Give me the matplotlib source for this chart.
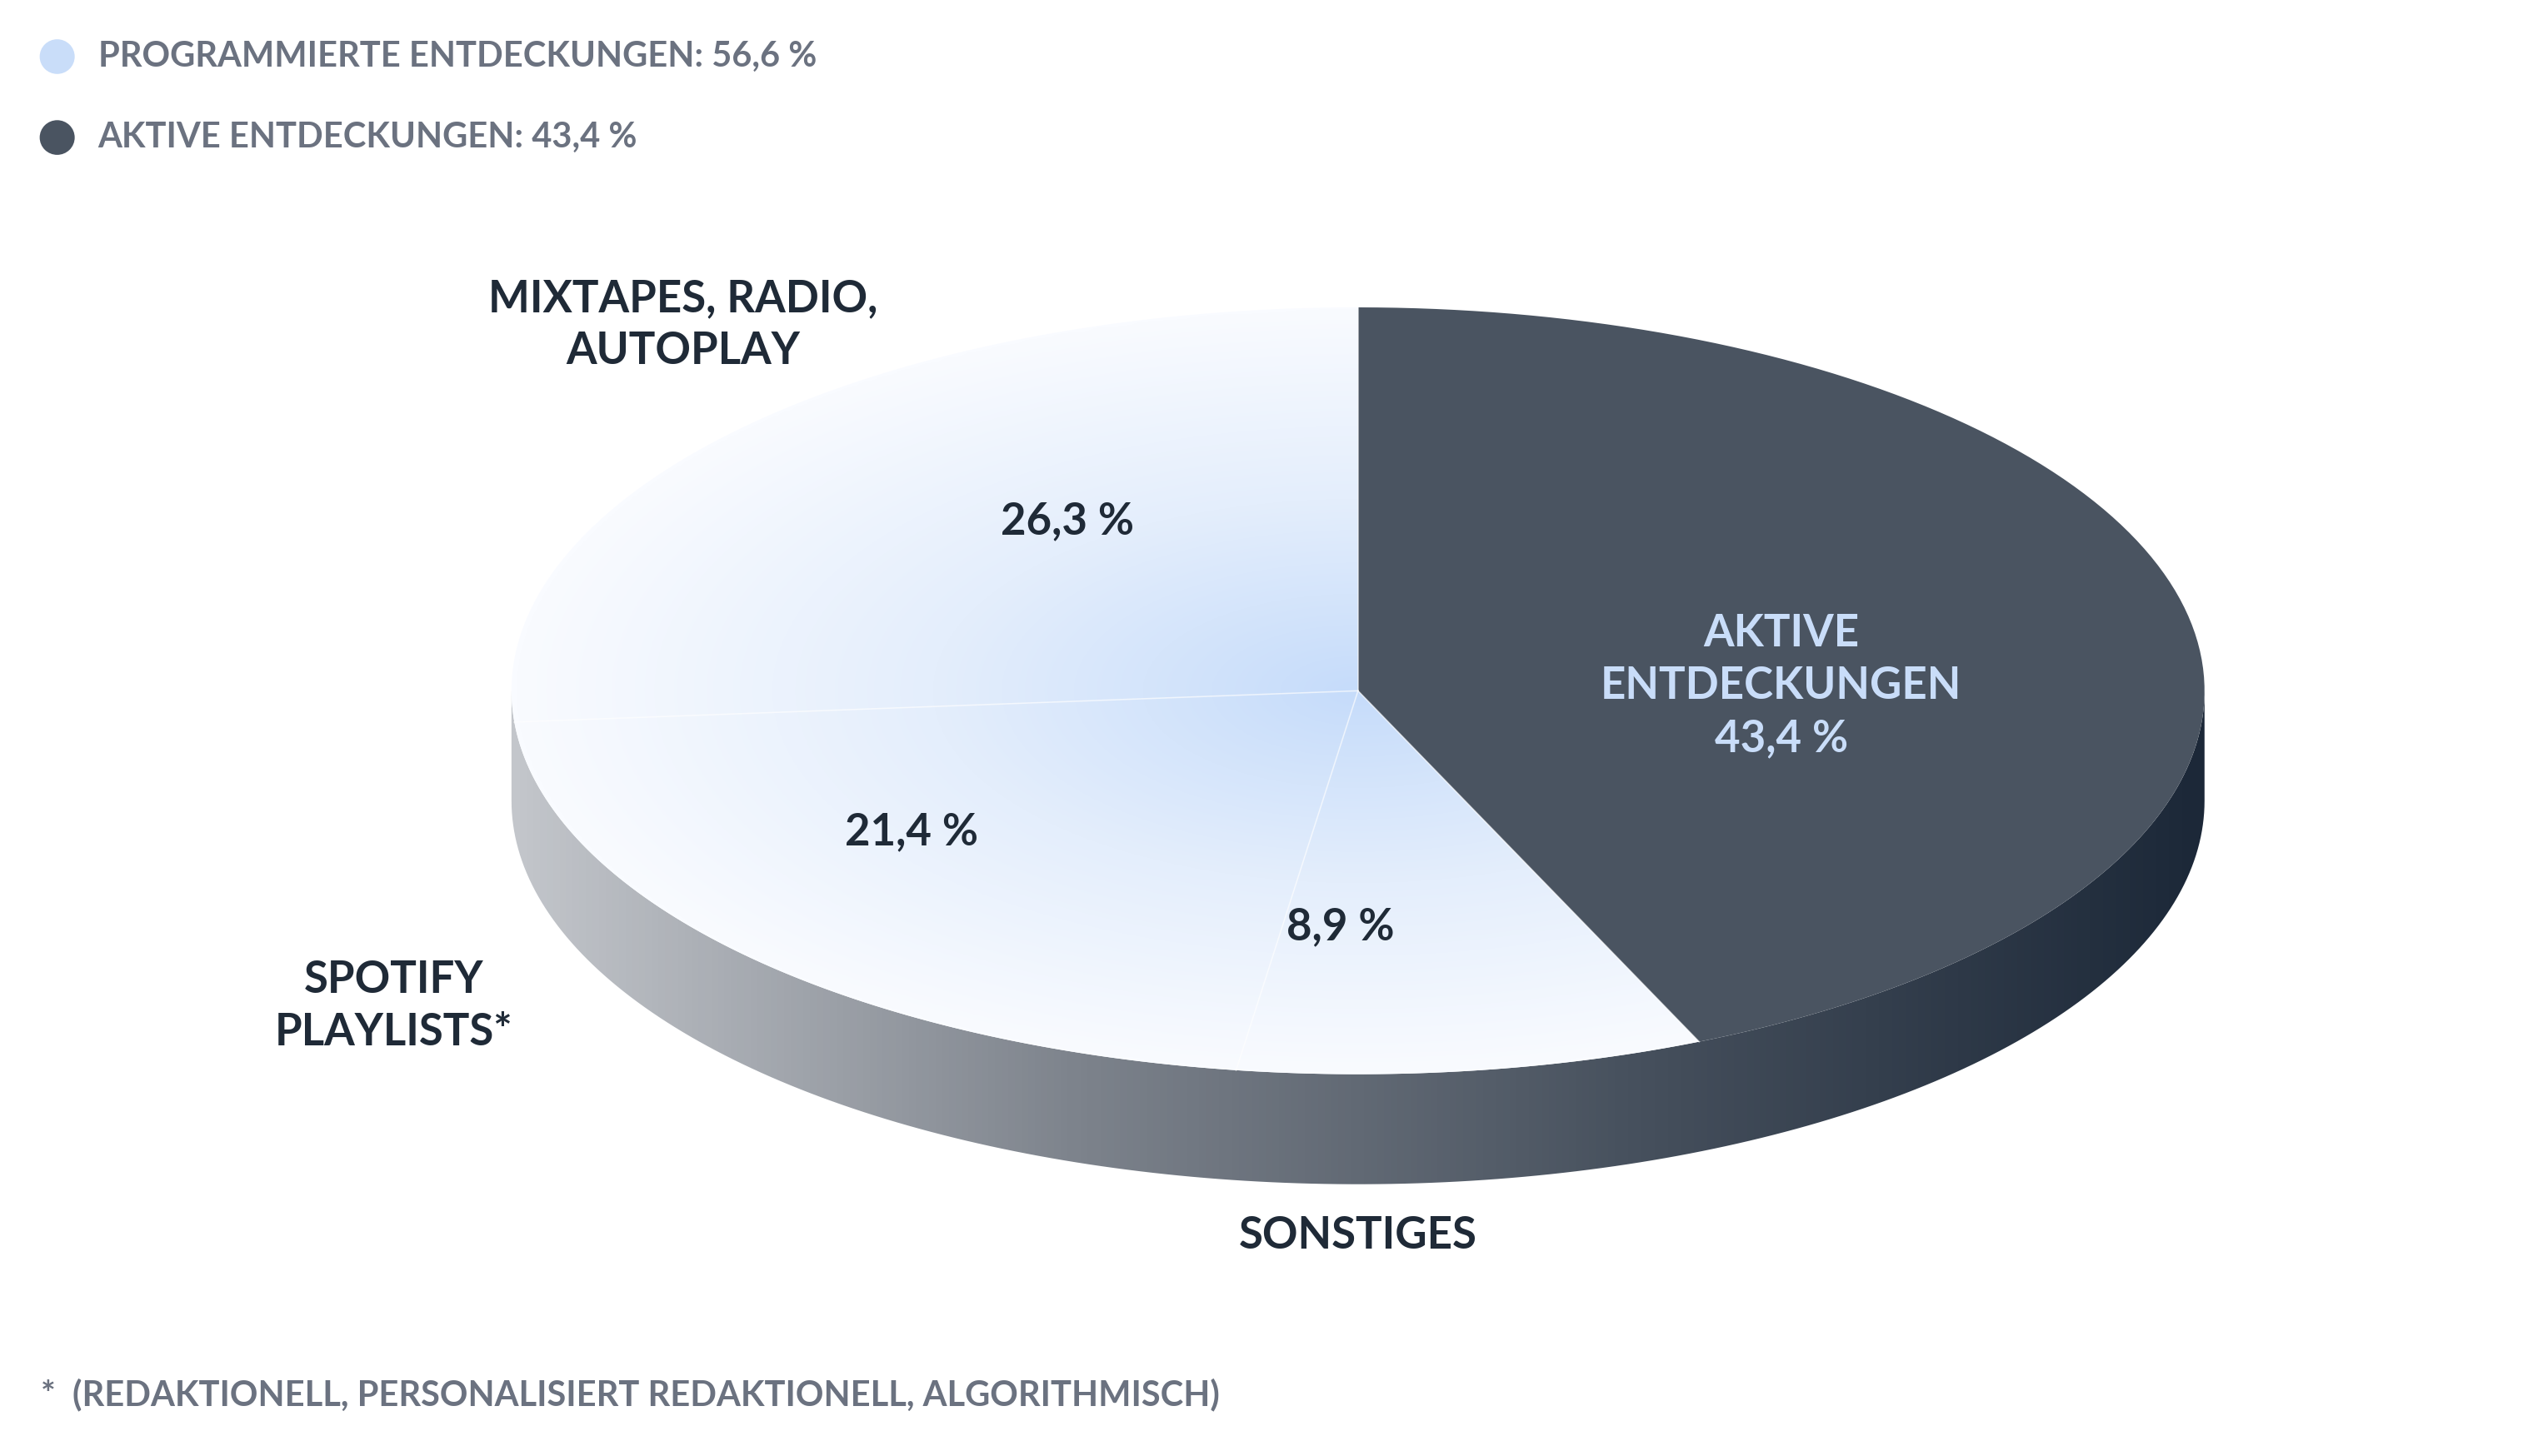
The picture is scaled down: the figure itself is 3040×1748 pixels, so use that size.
import numpy as np
import matplotlib.pyplot as plt
from matplotlib.patches import Polygon, Circle

plt.rcParams['font.family'] = ['Lato', 'DejaVu Sans']

# slices clockwise from 12 o'clock
labels = ["AKTIVE\nENTDECKUNGEN\n43,4 %", "8,9 %", "21,4 %", "26,3 %"]
values = [43.4, 8.9, 21.4, 26.3]
outer_labels = ["", "SONSTIGES", "SPOTIFY\nPLAYLISTS*", "MIXTAPES, RADIO,\nAUTOPLAY"]
legend_labels = ["PROGRAMMIERTE ENTDECKUNGEN: 56,6 %", "AKTIVE ENTDECKUNGEN: 43,4 %"]
legend_colors = ["#c9ddf9", "#4a5461"]
footnote = "*  (REDAKTIONELL, PERSONALISIERT REDAKTIONELL, ALGORITHMISCH)"

DARK = "#1f2a37"
GREY = "#6b7280"
cx, cy, rx, ry, depth = 831, 427, 518, 237, 68

fig = plt.figure(figsize=(15.2, 8.74), dpi=200)
ax = fig.add_axes([0, 0, 1, 1])
ax.set_xlim(0, 1550)
ax.set_ylim(900, 0)
ax.axis("off")


def ell(t, dy=0):
    return np.column_stack([cx + rx * np.cos(t), cy - ry * np.sin(t) + dy])


def grad_image(poly, cmap_colors, horizontal=True, radial=False, zorder=1):
    from matplotlib.colors import LinearSegmentedColormap
    cm = LinearSegmentedColormap.from_list("g", cmap_colors)
    xs = np.linspace(0, 1550, 400)
    ys = np.linspace(0, 900, 240)
    X, Y = np.meshgrid(xs, ys)
    if radial:
        Z = np.sqrt(((X - cx) / rx) ** 2 + ((Y - cy) / ry) ** 2)
        Z = np.clip(Z, 0, 1)
    else:
        Z = np.clip((X - (cx - rx)) / (2 * rx), 0, 1)
    im = ax.imshow(Z, cmap=cm, extent=(0, 1550, 900, 0), origin="upper",
                   zorder=zorder, aspect="auto", interpolation="bilinear")
    patch = Polygon(poly, closed=True, transform=ax.transData, facecolor="none", edgecolor="none")
    ax.add_patch(patch)
    im.set_clip_path(patch)


# side wall
t = np.linspace(np.pi, 2 * np.pi, 200)
side = np.vstack([ell(t), ell(t[::-1], depth)])
grad_image(side, ["#c3c6cb", "#7d838c", "#46505d", "#1c2838"], zorder=1)

# top slices
fr = np.array(values) / sum(values)
start = np.pi / 2
for i, f in enumerate(fr):
    end = start - f * 2 * np.pi
    tt = np.linspace(start, end, 120)
    poly = np.vstack([[cx, cy], ell(tt)])
    if i == 0:
        ax.add_patch(Polygon(poly, closed=True, facecolor="#4a5461", edgecolor="none", zorder=2))
    else:
        grad_image(poly, ["#c6dcfa", "#e4eefc", "#f9fbff"], radial=True, zorder=2)
    ax.add_line(plt.Line2D(poly[[0, 1], 0], poly[[0, 1], 1], color="white", lw=0.6, zorder=3, alpha=0.6))
    start = end

ax.text(1090, 424, labels[0], ha="center", va="center", color="#c9ddf9",
        fontsize=19, fontweight="bold", linespacing=1.35, zorder=4)
for (x, y), s in zip([(820, 573), (558, 514), (653, 322)], labels[1:]):
    ax.text(x, y, s, ha="center", va="center", color=DARK, fontsize=19, fontweight="bold", zorder=4)
for (x, y), s in zip([(831, 764), (241, 622), (418, 201)], outer_labels[1:]):
    ax.text(x, y, s, ha="center", va="center", color=DARK, fontsize=19, fontweight="bold",
            linespacing=1.35, zorder=4)

for k, (s, c) in enumerate(zip(legend_labels, legend_colors)):
    y = 35 + 50 * k
    ax.add_patch(Circle((35, y), 10, color=c, zorder=4))
    ax.text(60, y, s, ha="left", va="center", color=GREY, fontsize=15, fontweight="bold")

ax.text(25, 862, footnote, ha="left", va="center", color=GREY, fontsize=15, fontweight="bold")

fig.savefig("out.png", dpi=200, facecolor="white")
